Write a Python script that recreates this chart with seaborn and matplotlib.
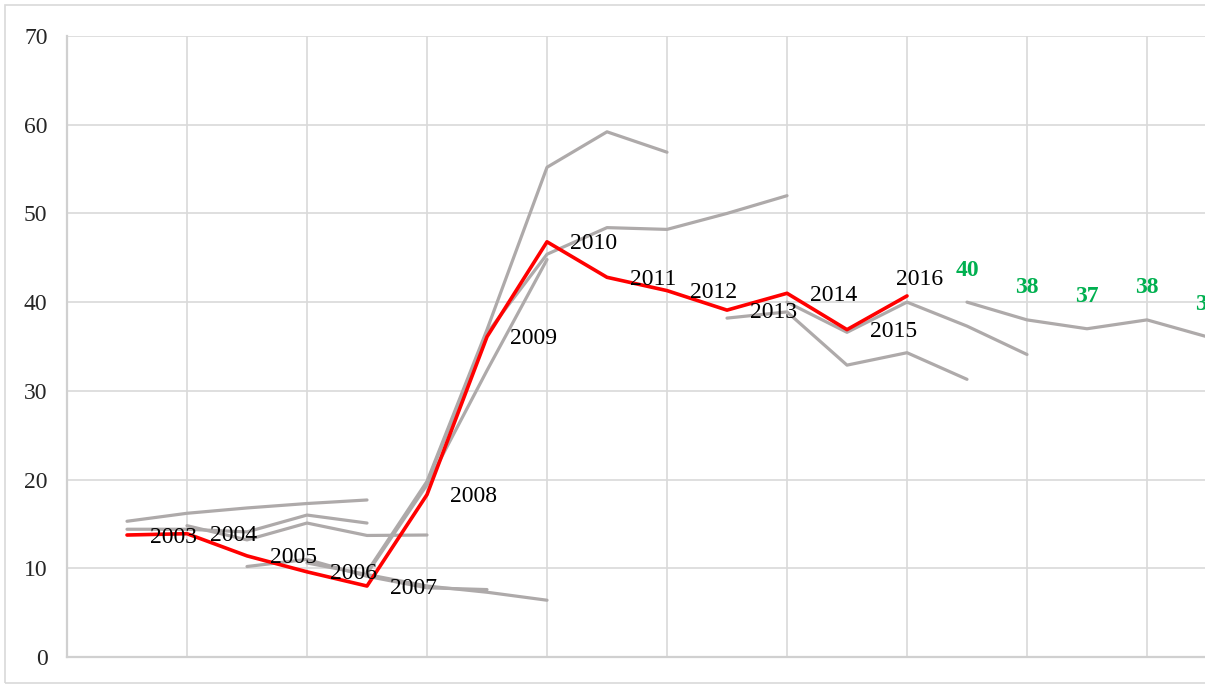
import matplotlib
matplotlib.use('Agg')
import matplotlib.pyplot as plt
import seaborn as sns
import pandas as pd
from matplotlib.patches import Rectangle

# Actual values (red line), one per year
years = list(range(2003, 2017))
actual = [13.75, 13.9, 11.4, 9.6, 8.0, 18.3, 36.1, 46.8, 42.8, 41.3, 39.1, 41.0, 36.9, 40.7]

# Forecast vintages (grey lines): first year and values
vintage_starts = [2003, 2003, 2004, 2005, 2006, 2007, 2007, 2008, 2013, 2014, 2017]
vintage_values = [
    [15.3, 16.2, 16.8, 17.3, 17.7],
    [14.4, 14.4, 14.1, 16.0, 15.1],
    [14.8, 13.2, 15.1, 13.7, 13.75],
    [10.2, 11.0, 9.1, 7.8, 7.6],
    [10.6, 9.3, 8.0, 7.3, 6.4],
    [9.6, 19.8, 36.9, 55.2, 59.2, 56.9],
    [9.4, 19.4, 32.3, 44.8],
    [19.6, 36.5, 45.4, 48.4, 48.2, 50.0, 52.0],
    [38.2, 38.9, 32.9, 34.3, 31.3],
    [40.0, 36.6, 40.0, 37.3, 34.1],
    [40.0, 38.0, 37.0, 38.0, 36.1],
]

y_ticks = [0, 10, 20, 30, 40, 50, 60, 70]

sns.set_style('white')
plt.rcParams['font.family'] = ['Liberation Serif', 'DejaVu Serif']

W, H = 1205, 686
fig = plt.figure(figsize=(W / 100, H / 100), dpi=100)
ax = fig.add_axes([67 / W, 29 / H, (W - 67) / W, 621 / H])

grey = '#AEAAAA'
for start, vals in zip(vintage_starts, vintage_values):
    df_v = pd.DataFrame({'year': list(range(start, start + len(vals))), 'value': vals})
    sns.lineplot(data=df_v, x='year', y='value', color=grey, linewidth=2.3,
                 estimator=None, ax=ax, zorder=3)

df_act = pd.DataFrame({'year': years, 'value': actual})
sns.lineplot(data=df_act, x='year', y='value', color='#FF0000', linewidth=2.6,
             estimator=None, ax=ax, zorder=4)

# year labels on the actual line
for yr, v in zip(years, actual):
    if yr == years[-1]:
        ax.annotate(str(yr), (yr, v), xytext=(9, 12), textcoords='offset points',
                    ha='center', va='center', fontsize=17, color='black', zorder=5)
    else:
        ax.annotate(str(yr), (yr, v), xytext=(16.5, -1.5), textcoords='offset points',
                    ha='left', va='center', fontsize=17, color='black', zorder=5)

# green labels on the latest forecast
last_start, last_vals = vintage_starts[-1], vintage_values[-1]
for i, v in enumerate(last_vals):
    ax.annotate(f'{v:.0f}', (last_start + i, v), xytext=(0, 23), textcoords='offset points',
                ha='center', va='center', fontsize=17, fontweight='bold', color='#00B050',
                annotation_clip=False, zorder=5)

ax.set_xlim(2002, 2002 + (W - 67) / 60)
ax.set_ylim(0, 70)
ax.set_yticks(y_ticks)
ax.set_yticklabels([str(t) for t in y_ticks], fontsize=17)
ax.set_xticks(list(range(2004, 2021, 2)))
ax.set_xticklabels([])
ax.tick_params(axis='both', length=0, pad=14)
ax.set_xlabel('')
ax.set_ylabel('')
ax.grid(True, color='#D9D9D9', linewidth=1.2)
ax.set_axisbelow(True)
for s in ['top', 'right']:
    ax.spines[s].set_visible(False)
for s in ['left', 'bottom']:
    ax.spines[s].set_color('#D0D0D0')
    ax.spines[s].set_linewidth(1.6)

# outer chart border
fig.patches.append(Rectangle((5 / W, 3 / H), 1.2, (H - 8) / H, transform=fig.transFigure,
                             fill=False, edgecolor='#D9D9D9', linewidth=1.2))

fig.savefig('out.png', dpi=100)
